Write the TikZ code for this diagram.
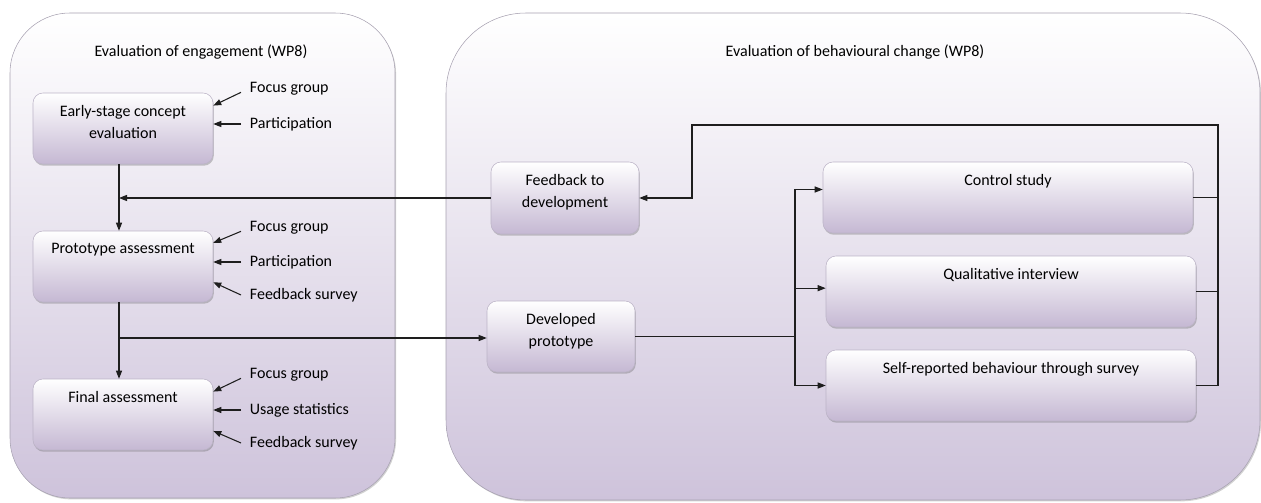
\documentclass[tikz,border=0pt]{standalone}
\usepackage{fontspec}
\setmainfont{Carlito}
\usetikzlibrary{arrows.meta, positioning, calc, shadows}
\definecolor{lavenderBg}{HTML}{CEC3DB}
\definecolor{lavenderBox}{HTML}{C5B8D3}
\definecolor{borderGray}{HTML}{A7A1B1}
\definecolor{boxBorder}{HTML}{BCB4C7}
\definecolor{lineDark}{HTML}{1E1E1E}

\begin{document}
\begin{tikzpicture}[x=0.75pt, y=-0.75pt,
        every node/.style={font=\fontsize{12}{16.5}\selectfont},
        grp/.style={draw=borderGray, rounded corners=45pt, top color=white, bottom color=lavenderBg,
            drop shadow={shadow xshift=0.8pt, shadow yshift=-1pt, opacity=0.3, fill=black!60}},
        box/.style={draw=boxBorder, rounded corners=7.5pt, top color=white, bottom color=lavenderBox,
            minimum height=53.25pt,
            drop shadow={shadow xshift=0.6pt, shadow yshift=-1.3pt, opacity=0.35, fill=black!60}},
        boxtext/.style={anchor=north, align=center, inner ysep=9.5pt},
        lbl/.style={anchor=west, inner xsep=6.5pt},
        conn/.style={draw=lineDark, line width=0.8pt},
        arr/.style={conn, -{Triangle[length=6pt, width=4.5pt]}}
    ]
        \useasboundingbox (0,0) rectangle (1261,503);

        % groups
        \node[grp, minimum width=288.75pt, minimum height=363.75pt] (engage) at (202.5,255.5) {};
        \node[grp, rounded corners=60pt, minimum width=610.5pt, minimum height=365.25pt] (behave) at (853,256.5) {};
        \node (engtitle) at (201,52) {Evaluation of engagement (WP8)};
        \node (behtitle) at (855,52) {Evaluation of behavioural change (WP8)};

        % engagement steps
        \node[box, minimum width=135pt, label={[boxtext]north:{Early-stage concept\\evaluation}}] (early) at (123,128.5) {};
        \node[box, minimum width=135pt, label={[boxtext]north:Prototype assessment}] (proto) at (123,266.5) {};
        \node[box, minimum width=135pt, label={[boxtext]north:Final assessment}] (final) at (123,414.5) {};

        \node[lbl] (fg1) at (241,89) {Focus group};
        \node[lbl] (part1) at (241,124) {Participation};
        \node[lbl] (fg2) at (241,228) {Focus group};
        \node[lbl] (part2) at (241,262) {Participation};
        \node[lbl] (fs2) at (241,295) {Feedback survey};
        \node[lbl] (fg3) at (241,375) {Focus group};
        \node[lbl] (use3) at (241,410) {Usage statistics};
        \node[lbl] (fs3) at (241,443) {Feedback survey};

        % behavioural change
        \node[box, minimum width=111pt, minimum height=54pt, label={[boxtext]north:{Feedback to\\development}}] (feedback) at (565,198) {};
        \node[box, minimum width=111pt, label={[boxtext]north:{Developed\\prototype}}] (devel) at (561,336.5) {};
        \node[box, minimum width=277.5pt, label={[boxtext]north:Control study}] (control) at (1008,197.5) {};
        \node[box, minimum width=277.5pt, label={[boxtext]north:Qualitative interview}] (qual) at (1011,291.5) {};
        \node[box, minimum width=277.5pt, label={[boxtext]north:Self-reported behaviour through survey}] (self) at (1011,385.5) {};

        \coordinate (split) at (119,338);
        \coordinate (fork) at (795,338);
        \coordinate (rail) at (1218,125);
        \coordinate (drop) at (692,125);

        % inputs
        \draw[arr] ([yshift=-2.5pt]fg1.west) -- ($(early.north east)!.18!(early.south east)$);
        \draw[arr] (part1.west) -- (part1.west -| early.east);
        \draw[arr] ([yshift=-2.5pt]fg2.west) -- ($(proto.north east)!.17!(proto.south east)$);
        \draw[arr] (part2.west) -- (part2.west -| proto.east);
        \draw[arr] (fs2.west) -- ($(proto.north east)!.72!(proto.south east)$);
        \draw[arr] ([yshift=-2.5pt]fg3.west) -- ($(final.north east)!.18!(final.south east)$);
        \draw[arr] (use3.west) -- (use3.west -| final.east);
        \draw[arr] (fs3.west) -- ($(final.north east)!.73!(final.south east)$);

        % flow
        \draw[arr] (early.south -| split) -- (proto.north -| split);
        \draw[arr] (proto.south -| split) -- (final.north -| split);
        \draw[arr] (split) -- (split -| devel.west);
        \draw[arr] (feedback.west) -- (feedback.west -| split);
        \draw[conn] (devel.east) -- (devel.east -| fork);
        \draw[arr] (devel.east -| fork) |- ([yshift=6pt]control.west);
        \draw[arr] (devel.east -| fork) |- ([yshift=2.5pt]qual.west);
        \draw[arr] (devel.east -| fork) |- (self.west);
        \draw[conn] (control.east) -- (control.east -| rail);
        \draw[conn] (qual.east) -- (qual.east -| rail);
        \draw[arr] (self.east) -| (rail) -- (drop) |- (feedback.east);
    \end{tikzpicture}
\end{document}
